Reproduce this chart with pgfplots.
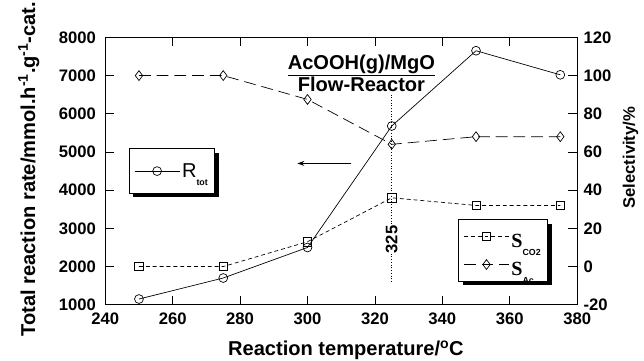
\documentclass[border=0pt]{standalone}
\usepackage{pgfplots}
\pgfplotsset{compat=1.18}
\usepackage{fontspec}
\setmainfont{Liberation Sans}
\newfontfamily\serif{Liberation Serif}
\usetikzlibrary{shadows,arrows.meta}
\makeatletter
\tikzset{no preactions/.code={\let\tikz@preactions\pgfutil@empty}}
\makeatother
\begin{document}
\newcommand\fs{\fontsize{17}{19}\selectfont\bfseries}
\newcommand\fl{\fontsize{20.5}{22}\selectfont\bfseries}
\newcommand\sub[1]{\raisebox{-0.8ex}{\fontsize{9}{9}\selectfont\bfseries #1}}
\pgfplotsset{
  common/.style={
    at={(0,0)}, anchor=south west,
    scale only axis, width=480bp, height=272bp,
    xmin=240, xmax=380,
    tick align=inside,
    major tick length=9bp,
    tick style={black, line width=0.8bp},
    axis line style={line width=0.8bp},
    /pgf/number format/assume math mode=true,
    /pgf/number format/1000 sep={},
    scaled y ticks=false,
    tick label style={font=\fs},
    label style={font=\fl},
    legend cell align=left,
    legend image code/.code={
      \draw[no preactions, mark repeat=2,mark phase=2,##1] plot coordinates {(0bp,0bp)(23bp,0bp)(46bp,0bp)};
    },
  }
}
\begin{tikzpicture}
\path[use as bounding box] (-96bp,-57bp) rectangle (548bp,310bp);
\begin{axis}[
  common,
  ymin=1000, ymax=8000,
  xtick={240,260,...,380},
  ytick={1000,2000,...,8000},
  xtick pos=both, ytick pos=left,
  xticklabel style={yshift=-5bp},
  yticklabel style={xshift=-6bp},
  xlabel={Reaction temperature/\textsuperscript{o}C},
  xlabel style={at={(axis description cs:0.51,-0.17)}, anchor=center},
  ylabel={Total reaction rate/mmol.h\textsuperscript{-1}.g\textsuperscript{-1}-cat.},
  ylabel style={at={(axis description cs:-0.162,0.507)}, anchor=center},
  legend style={at={(axis description cs:0.05,0.585)}, anchor=north west,
    draw=black, line width=0.8bp, fill=white,
    drop shadow={shadow xshift=4bp, shadow yshift=-4bp, fill=black, opacity=1},
    inner xsep=5bp, inner ysep=13bp, font=\fl},
]
\addplot[black, line width=0.7bp, mark=o, mark size=4.5bp, mark options={solid, fill=white}]
  coordinates {(250,1150) (275,1700) (300,2500) (325,5680) (350,7650) (375,7020)};
\addlegendentry{\mdseries R\sub{tot}}
\draw[dotted, line width=0.8bp] (axis cs:325,1600) -- (axis cs:325,6500);
\node[rotate=90, fill=white, inner sep=1bp, font=\fs] at (axis cs:325,2710) {325};
\draw[-{Stealth[length=7bp,width=5bp]}, line width=0.9bp] (axis cs:313,4700) -- (axis cs:297,4700);
\node[font=\fl] at (axis cs:316,7260) {\underline{AcOOH(g)/MgO}};
\node[font=\fl] at (axis cs:316,6760) {Flow-Reactor};
\end{axis}
\begin{axis}[
  common,
  ymin=-20, ymax=120,
  ytick={-20,0,...,120},
  axis x line=none,
  axis y line*=right,
  yticklabel style={xshift=3bp},
  ylabel={Selectivity/\%},
  ylabel style={at={(axis description cs:1.113,0.55)}, anchor=center, font=\fs},
  legend style={at={(axis description cs:0.748,0.32)}, anchor=north west,
    draw=black, line width=0.8bp, fill=white,
    drop shadow={shadow xshift=4bp, shadow yshift=-4bp, fill=black, opacity=1},
    inner xsep=5bp, inner ysep=3bp, font=\fl},
]
\addplot[black, line width=0.7bp, dash pattern=on 4bp off 3bp, mark=square, mark size=4.2bp, mark options={solid, fill=white}]
  coordinates {(250,0) (275,0) (300,13) (325,36) (350,32) (375,32)};
\addlegendentry{\rule[-10bp]{0pt}{33bp}{\serif S}\sub{CO2}}
\addplot[black, line width=0.7bp, dash pattern=on 12bp off 6bp, mark=diamond, mark size=5bp, mark options={solid, fill=white}]
  coordinates {(250,100) (275,100) (300,87.5) (325,64) (350,68) (375,68)};
\addlegendentry{\rule[-10bp]{0pt}{33bp}{\serif S}\sub{Ac}}
\end{axis}
\end{tikzpicture}
\end{document}
